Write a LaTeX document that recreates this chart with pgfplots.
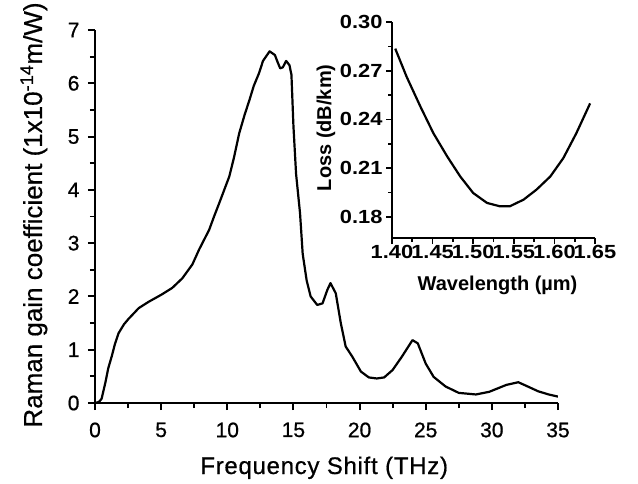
\documentclass[border=0pt]{standalone}
\usepackage{pgfplots}
\pgfplotsset{compat=1.18}
\usetikzlibrary{calc}
\usepackage{fontspec}
\setmainfont{Liberation Sans}
\newfontfamily\xlabfont{Liberation Sans}[LetterSpace=3,FakeBold=0.6]
\newfontfamily\ylabfont{Liberation Sans}[FakeBold=0.5]
\newfontfamily\tickfont{Liberation Sans}[FakeBold=0.8]
\newfontfamily\insetfont{Liberation Sans}[FakeStretch=1.15]
\begin{document}
\begin{tikzpicture}
\path[use as bounding box] (-95pt,-80pt) rectangle (543pt,403pt);
\begin{axis}[
  scale only axis,
  width=463pt, height=373pt,
  xmin=0, xmax=35, ymin=0, ymax=7,
  axis x line*=bottom, axis y line*=left,
  axis line style={line width=1.9pt},
  xtick={0,5,...,35}, ytick={0,1,...,7},
  minor x tick num=1, minor y tick num=1,
  tick align=outside,
  major tick length=7pt, minor tick length=5pt,
  every tick/.style={line width=1.9pt, black},
  /pgf/number format/assume math mode=true,
  tick label style={font=\tickfont\fontsize{21}{24}\selectfont},
  xticklabel style={yshift=-9pt},
  yticklabel style={xshift=-5pt},
  xlabel={Frequency Shift (THz)},
  ylabel={Raman gain coefficient (1x10\textsuperscript{-14}m/W)},
  xlabel style={font=\xlabfont\fontsize{24}{28}\selectfont,
    at={($(axis description cs:0.495,0)+(0,-71pt)$)}, anchor=base},
  ylabel style={font=\ylabfont\fontsize{26}{30}\selectfont,
    at={($(axis description cs:0,0.504)+(-53pt,0)$)}, anchor=base},
]
\addplot[black, line width=2.2pt, line join=round] coordinates {
(0,0) (0.3,0.02) (0.5,0.08) (0.8,0.4) (1.0,0.65) (1.27,0.88) (1.5,1.1) (1.78,1.31)
(2.2,1.48) (2.54,1.58) (3.0,1.7) (3.3,1.78) (4.06,1.9) (5.0,2.03) (5.84,2.16)
(6.6,2.34) (7.36,2.6) (7.87,2.88) (8.63,3.25) (9.0,3.5) (9.39,3.75) (10.15,4.25)
(10.5,4.6) (10.9,5.06) (11.3,5.4) (11.68,5.69) (12.0,5.95) (12.4,6.19) (12.7,6.42)
(13.2,6.6) (13.6,6.53) (13.8,6.4) (14.0,6.28) (14.2,6.3) (14.45,6.42) (14.7,6.34)
(14.85,6.16) (15.0,5.2) (15.2,4.3) (15.5,3.56) (15.7,2.8) (16.0,2.3) (16.3,2.0)
(16.8,1.84) (17.2,1.87) (17.56,2.12) (17.8,2.25) (18.2,2.06) (18.58,1.5) (18.95,1.06)
(19.45,0.87) (20.1,0.59) (20.7,0.48) (21.3,0.46) (21.86,0.48) (22.5,0.62) (23.2,0.87)
(24.0,1.18) (24.4,1.12) (25.0,0.74) (25.6,0.49) (26.5,0.31) (27.5,0.19) (28.8,0.16)
(29.8,0.21) (31.1,0.34) (32.0,0.39) (32.8,0.3) (33.5,0.22) (34.3,0.16) (35.0,0.12)
};
\end{axis}
\begin{axis}[
  at={(297pt,165pt)}, anchor=south west,
  scale only axis,
  width=203pt, height=216pt,
  xmin=1.40, xmax=1.65, ymin=0.167, ymax=0.30,
  axis x line*=bottom, axis y line*=left,
  axis line style={line width=1.7pt},
  xtick={1.40,1.45,...,1.651}, ytick={0.18,0.21,...,0.301},
  minor x tick num=1, minor y tick num=1,
  tick align=outside,
  major tick length=6pt, minor tick length=4pt,
  every tick/.style={line width=1.7pt, black},
  /pgf/number format/assume math mode=true,
  /pgf/number format/.cd, fixed, fixed zerofill, precision=2, /pgfplots/.cd,
  tick label style={font=\insetfont\fontsize{19}{20}\selectfont\bfseries},
  xticklabel style={inner xsep=0pt, yshift=2pt},
  xlabel={Wavelength (µm)},
  ylabel={Loss (dB/km)},
  label style={font=\fontsize{20}{22}\selectfont\bfseries},
  xlabel style={at={($(axis description cs:0.52,0)+(0,-52pt)$)}, anchor=base},
  ylabel style={at={($(axis description cs:0,0.51)+(-61pt,0)$)}, anchor=base},
]
\addplot[black, line width=2.2pt, line join=round] coordinates {
(1.404,0.2836) (1.418,0.2663) (1.435,0.2479) (1.451,0.2315) (1.468,0.2172)
(1.484,0.2049) (1.500,0.1947) (1.517,0.1886) (1.533,0.1865) (1.545,0.1865)
(1.562,0.1906) (1.578,0.1968) (1.595,0.2049) (1.611,0.2162) (1.627,0.2315) (1.644,0.2499)
};
\end{axis}
\end{tikzpicture}
\end{document}
